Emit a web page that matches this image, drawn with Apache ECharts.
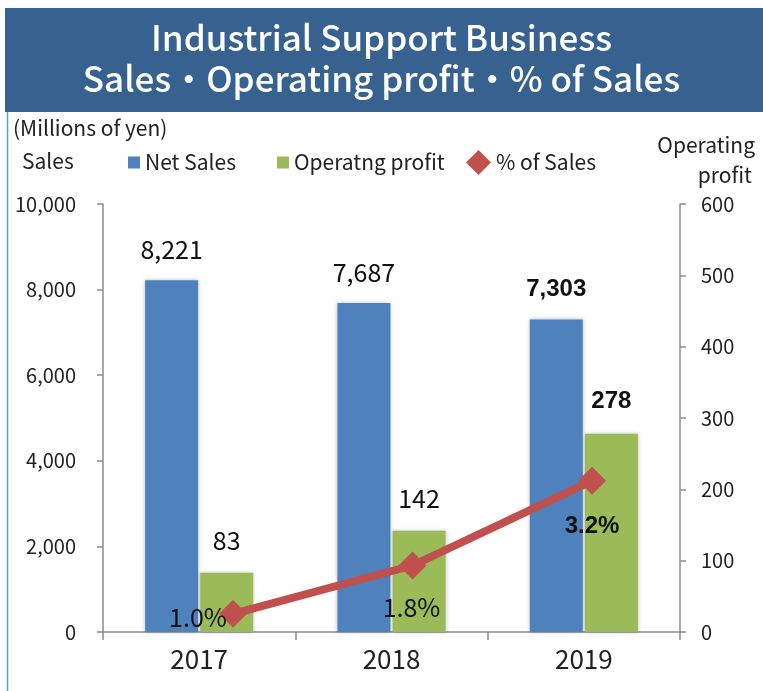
<!DOCTYPE html>
<html>
<head>
<meta charset="utf-8">
<script src="https://cdn.jsdelivr.net/npm/echarts@6/dist/echarts.min.js"></script>
<style>
  html, body { margin: 0; padding: 0; background: #fff; }
  #main { width: 763px; height: 691px; }
</style>
</head>
<body>
<div id="main"></div>
<script>
// data
var years = ['2017', '2018', '2019'];
var netSales = [8221, 7687, 7303];
var opProfit = [83, 142, 278];
var pctSales = [1.0, 1.8, 3.2];

var FONT = '"Noto Sans CJK JP", "Noto Sans", sans-serif';
var BOLD = '"Liberation Sans", Arial, sans-serif';
var BLUE = '#4f81bd', GREEN = '#9bbb59', RED = '#c0504d', AXIS = '#8c8c8c';

var chart = echarts.init(document.getElementById('main'));

// last year is highlighted in bold
function barData(vals) {
  return vals.map(function (v, i) {
    var d = { value: v };
    if (i === vals.length - 1) {
      d.label = { fontFamily: BOLD, fontWeight: 'bold', fontSize: 24 };
    }
    return d;
  });
}
// the % line sits on its own hidden x scale (markers are not centred on the categories)
var pctOffsets = [[-35, 4], [-1, 42], [0, 46]];
var pctData = pctSales.map(function (v, i) {
  var d = { value: [i, v], label: { offset: pctOffsets[i] } };
  if (i === pctSales.length - 1) {
    d.label.fontFamily = BOLD;
    d.label.fontWeight = 'bold';
    d.label.fontSize = 24;
  }
  return d;
});

var hidden = {
  show: false,
  axisLine: { show: false, onZero: false }, axisTick: { show: false }, axisLabel: { show: false },
  splitLine: { show: false }, splitArea: { show: false }, minorSplitLine: { show: false }
};

var option = {
  animation: false,
  textStyle: { fontFamily: FONT },
  graphic: [
    { type: 'rect', shape: { x: 5, y: 8, width: 758, height: 104 }, style: { fill: '#37618f' } },
    { type: 'line', shape: { x1: 7.5, y1: 112, x2: 7.5, y2: 691 }, style: { stroke: '#6d97cc', lineWidth: 1.5 } },
    { type: 'text', left: 'center', top: 20, style: { text: 'Industrial Support Business', fill: '#fff', font: '500 35px ' + FONT } },
    { type: 'text', left: 'center', top: 61, style: { text: 'Sales・Operating profit・% of Sales', fill: '#fff', font: '500 35px ' + FONT } },
    { type: 'text', left: 13, top: 118, style: { text: '(Millions of yen)', fill: '#222', font: '21px ' + FONT } },
    { type: 'text', left: 22, top: 151, style: { text: 'Sales', fill: '#222', font: '21px ' + FONT } },
    { type: 'text', right: 8, top: 135, style: { text: 'Operating', fill: '#222', font: '21px ' + FONT } },
    { type: 'text', right: 11, top: 165, style: { text: 'profit', fill: '#222', font: '21px ' + FONT } }
  ],
  legend: [
    { left: 123, top: 147, itemWidth: 12, itemHeight: 12, textStyle: { fontSize: 21, color: '#222', fontFamily: FONT },
      data: [{ name: 'Net Sales', icon: 'rect' }] },
    { left: 272, top: 147, itemWidth: 12, itemHeight: 12, textStyle: { fontSize: 21, color: '#222', fontFamily: FONT },
      data: [{ name: 'Operatng profit', icon: 'rect' }] },
    { left: 461, top: 145, itemWidth: 25, itemHeight: 25, textStyle: { fontSize: 21, color: '#222', fontFamily: FONT },
      data: [{ name: '% of Sales', icon: 'diamond' }] }
  ],
  grid: { left: 103, right: 83, top: 204, bottom: 59 },
  xAxis: [
    {
      type: 'category',
      data: years,
      axisLine: { onZero: false, lineStyle: { color: AXIS, width: 1.5 } },
      axisTick: { show: true, length: 8, alignWithLabel: false, lineStyle: { color: AXIS, width: 1.5 } },
      axisLabel: { fontSize: 26, color: '#222', margin: 14 },
      splitLine: { show: false }, splitArea: { show: false }
    },
    Object.assign({ type: 'value', min: -0.724, max: 2.49 }, hidden)
  ],
  yAxis: [
    {
      type: 'value', min: 0, max: 10000, interval: 2000, position: 'left',
      axisLine: { show: true, onZero: false, lineStyle: { color: AXIS, width: 1.5 } },
      axisTick: { show: true, length: 6, lineStyle: { color: AXIS, width: 1.5 } },
      axisLabel: { fontSize: 20, color: '#222', margin: 27,
        formatter: function (v) { return v.toLocaleString('en-US'); } },
      splitLine: { show: false }
    },
    {
      type: 'value', min: 0, max: 600, interval: 100, position: 'right',
      axisLine: { show: true, onZero: false, lineStyle: { color: AXIS, width: 1.5 } },
      axisTick: { show: true, length: 6, lineStyle: { color: AXIS, width: 1.5 } },
      axisLabel: { fontSize: 20, color: '#222', margin: 21 },
      splitLine: { show: false }
    },
    Object.assign({ type: 'value', min: 0.7, max: 7.78 }, hidden)
  ],
  series: [
    {
      name: 'Net Sales', type: 'bar', yAxisIndex: 0,
      barWidth: 53, barGap: '4%',
      itemStyle: { color: BLUE, shadowColor: 'rgba(0,0,0,0.25)', shadowBlur: 4 },
      label: { show: true, position: 'top', distance: 18, fontSize: 25, color: '#111',
        formatter: function (p) { return p.value.toLocaleString('en-US'); } },
      data: barData(netSales)
    },
    {
      name: 'Operatng profit', type: 'bar', yAxisIndex: 1,
      barWidth: 53, barGap: '4%',
      itemStyle: { color: GREEN, shadowColor: 'rgba(0,0,0,0.25)', shadowBlur: 4 },
      label: { show: true, position: 'top', distance: 20, fontSize: 25, color: '#111' },
      data: barData(opProfit)
    },
    {
      name: '% of Sales', type: 'line', xAxisIndex: 1, yAxisIndex: 2,
      symbol: 'diamond', symbolSize: 28,
      lineStyle: { color: RED, width: 8 },
      itemStyle: { color: RED },
      label: { show: true, position: 'inside', fontSize: 25, color: '#111',
        formatter: function (p) { return p.value[1].toFixed(1) + '%'; } },
      z: 5,
      data: pctData
    }
  ]
};
chart.setOption(option);
</script>
</body>
</html>
